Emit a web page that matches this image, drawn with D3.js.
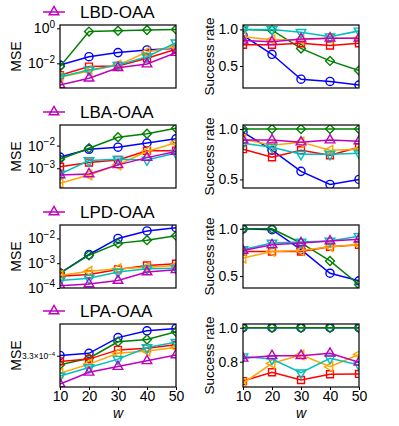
<!DOCTYPE html>
<html>
<head>
<meta charset="utf-8">
<script src="https://cdn.jsdelivr.net/npm/d3@7"></script>
<style>
  body { margin: 0; background: #fff; }
  text { font-family: "Liberation Sans", Arial, sans-serif; fill: #000; }
</style>
</head>
<body>
<svg width="399" height="426"></svg>
<script>
// x values (window size w)
const wValues = [10, 20, 30, 40, 50];
const rowTitles = ['LBD-OAA', 'LBA-OAA', 'LPD-OAA', 'LPA-OAA'];
// series order: blue o, green D, red s, orange <, cyan v, magenta ^

// MSE per row
const mseLBD = [
  [7.9e-3, 0.024, 0.041, 0.058, 0.072],
  [6.5e-3, 0.65, 0.72, 0.79, 0.87],
  [2.1e-3, 6.5e-3, 7.1e-3, 0.0195, 0.065],
  [1.6e-3, 3.6e-3, 7.9e-3, 0.044, 0.089],
  [1.7e-3, 4.2e-3, 7.9e-3, 0.024, 0.15],
  [5.8e-4, 1.4e-3, 5.6e-3, 9.1e-3, 0.041]
];
const mseLBA = [
  [3.1e-3, 6.9e-3, 8.5e-3, 0.0129, 0.02],
  [2.5e-3, 7.6e-3, 0.0234, 0.0331, 0.0589],
  [1.17e-3, 1.78e-3, 2.34e-3, 5.9e-3, 6.0e-3],
  [2.2e-4, 5.1e-4, 1.41e-3, 5.5e-3, 0.0135],
  [5.6e-4, 2.19e-3, 2.5e-3, 2.34e-3, 4.7e-3],
  [5.1e-4, 5.6e-4, 1.41e-3, 2.95e-3, 5.5e-3]
];
const mseLPD = [
  [4.0e-4, 2.24e-3, 0.01, 0.02, 0.027],
  [4.0e-4, 2.1e-3, 6.3e-3, 8.5e-3, 0.0129],
  [2.95e-4, 3.5e-4, 5.6e-4, 8.1e-4, 9.5e-4],
  [3.2e-4, 4.7e-4, 6.0e-4, 6.9e-4, 8.1e-4],
  [2.0e-4, 2.45e-4, 4.4e-4, 6.0e-4, 6.3e-4],
  [1.23e-4, 1.45e-4, 2.0e-4, 4.4e-4, 5.4e-4]
];
const mseLPA = [
  [3.31e-4, 3.39e-4, 4.03e-4, 4.34e-4, 4.46e-4],
  [2.99e-4, 3.21e-4, 3.85e-4, 3.95e-4, 4.30e-4],
  [3.10e-4, 3.18e-4, 3.52e-4, 3.58e-4, 3.72e-4],
  [2.72e-4, 3.01e-4, 3.39e-4, 3.48e-4, 3.61e-4],
  [2.64e-4, 2.90e-4, 3.18e-4, 3.61e-4, 3.83e-4],
  [2.42e-4, 2.75e-4, 2.93e-4, 3.12e-4, 3.33e-4]
];

// success rate per row
const srLBD = [
  [0.92, 0.66, 0.32, 0.29, 0.24],
  [1.0, 0.99, 0.74, 0.57, 0.44],
  [0.79, 0.79, 0.81, 0.78, 0.81],
  [0.9, 0.86, 0.86, 0.88, 0.88],
  [1.0, 1.0, 0.96, 0.9, 0.98],
  [0.85, 0.83, 0.87, 0.88, 0.88]
];
const srLBA = [
  [0.97, 0.79, 0.58, 0.45, 0.5],
  [1.0, 1.0, 1.0, 1.0, 1.0],
  [0.8, 0.72, 0.79, 0.74, 0.82],
  [0.9, 0.84, 0.87, 0.79, 0.8],
  [0.86, 0.82, 0.75, 0.75, 0.76],
  [0.89, 0.89, 0.87, 0.89, 0.88]
];
const srLPD = [
  [1.0, 0.99, 0.78, 0.53, 0.45],
  [1.0, 1.0, 0.85, 0.66, 0.41],
  [0.76, 0.76, 0.76, 0.81, 0.83],
  [0.69, 0.76, 0.77, 0.81, 0.83],
  [0.78, 0.85, 0.86, 0.87, 0.92],
  [0.77, 0.83, 0.85, 0.87, 0.89]
];
const srLPA = [
  [1.0, 1.0, 1.0, 1.0, 1.0],
  [1.0, 1.0, 1.0, 1.0, 1.0],
  [0.686, 0.738, 0.692, 0.726, 0.728],
  [0.673, 0.79, 0.84, 0.77, 0.843],
  [0.83, 0.816, 0.735, 0.82, 0.78],
  [0.82, 0.835, 0.835, 0.849, 0.796]
];

// axis ranges and tick values
const mseDomains = [[3.9e-4, 1.55], [1.35e-4, 0.081], [1e-4, 0.0347], [2.34e-4, 4.68e-4]];
const mseTicks = [[1, 1e-2], [1e-2, 1e-3], [1e-2, 1e-3, 1e-4], [3.3e-4]];
const srDomains = [[0.2, 1.06], [0.415, 1.04], [0.374, 1.04], [0.651, 1.022]];
const srTicks = [[0.5, 1.0], [0.5, 1.0], [0.5, 1.0], [0.8, 1.0]];

const mseRows = [mseLBD, mseLBA, mseLPD, mseLPA];
const srRows = [srLBD, srLBA, srLPD, srLPA];

// styles
const colors = ['#0000ff', '#008000', '#ff0000', '#ffa500', '#00bfbf', '#bf00bf'];
const markers = ['circle', 'diamond', 'square', 'tleft', 'tdown', 'tup'];

const svg = d3.select('svg');
const rowTops = [25, 125, 225, 324];
const panelW = 116, panelH = 63;
const leftX = 60, rightX = 243;

function markerPath(kind) {
    if (kind === 'circle') return { d: d3.symbol(d3.symbolCircle, 52)(), rot: 0 };
    if (kind === 'diamond') return { d: d3.symbol(d3.symbolSquare, 40)(), rot: 45 };
    if (kind === 'square') return { d: d3.symbol(d3.symbolSquare, 48)(), rot: 0 };
    const tri = d3.symbol(d3.symbolTriangle, 40)();
    if (kind === 'tup') return { d: tri, rot: 0 };
    if (kind === 'tdown') return { d: tri, rot: 180 };
    return { d: tri, rot: -90 };
}

function superscriptTicks(sel) {
    sel.selectAll('.tick text').each(function(d) {
        const t = d3.select(this);
        t.text(null);
        const e = Math.round(Math.log10(d));
        t.append('tspan').text('10');
        t.append('tspan').attr('dy', '-0.55em').attr('font-size', '10px')
            .text(e < 0 ? '\u2212' + (-e) : e);
    });
}

function drawPanel(x0, y0, data, y, tickVals, isLog, row, col) {
    const x = d3.scaleLinear().domain([10, 50]).range([x0, x0 + panelW]);
    const id = 'clip' + row + col;
    svg.append('clipPath').attr('id', id)
        .append('rect').attr('x', x0).attr('y', y0).attr('width', panelW).attr('height', panelH);

    const g = svg.append('g').attr('clip-path', `url(#${id})`);
    const line = d3.line().x((d, i) => x(wValues[i])).y(d => y(d));

    data.forEach((series, s) => {
        g.append('path')
            .attr('d', line(series))
            .attr('fill', 'none')
            .attr('stroke', colors[s])
            .attr('stroke-width', 1.5);
        const m = markerPath(markers[s]);
        g.selectAll(null)
            .data(series)
            .enter().append('path')
            .attr('d', m.d)
            .attr('transform', (d, i) => `translate(${x(wValues[i])},${y(d)}) rotate(${m.rot})`)
            .attr('fill', 'none')
            .attr('stroke', colors[s])
            .attr('stroke-width', 1.4);
    });

    // frame
    svg.append('rect')
        .attr('x', x0).attr('y', y0).attr('width', panelW).attr('height', panelH)
        .attr('fill', 'none').attr('stroke', '#000').attr('stroke-width', 1.2);

    // y axis
    const yAxis = svg.append('g')
        .attr('transform', `translate(${x0},0)`)
        .call(d3.axisLeft(y).tickValues(tickVals).tickSize(3).tickPadding(2)
            .tickFormat(isLog ? null : d3.format('.1f')));
    yAxis.select('.domain').remove();
    yAxis.selectAll('text').attr('font-size', '14px').attr('font-family', '"Liberation Sans", Arial, sans-serif');
    if (isLog && row < 3) superscriptTicks(yAxis);
    if (isLog && row === 3) {
        yAxis.selectAll('.tick text').each(function() {
            const t = d3.select(this);
            t.text(null).attr('font-size', '8.5px');
            t.append('tspan').text('3.3\u00d710');
            t.append('tspan').attr('dy', '-0.5em').attr('font-size', '6px').text('\u22124');
        });
    }

    // x axis on bottom row
    if (row === 3) {
        const xAxis = svg.append('g')
            .attr('transform', `translate(0,${y0 + panelH})`)
            .call(d3.axisBottom(x).tickValues(wValues).tickSize(3).tickPadding(1.5));
        xAxis.select('.domain').remove();
        xAxis.selectAll('text').attr('font-size', '14px').attr('font-family', '"Liberation Sans", Arial, sans-serif');
        svg.append('text')
            .attr('x', x0 + panelW / 2).attr('y', y0 + panelH + 31)
            .attr('text-anchor', 'middle')
            .attr('font-size', '14px')
            .attr('font-style', 'italic')
            .text('w');
    }

    // y label
    svg.append('text')
        .attr('transform', `translate(${col === 0 ? 20.5 : 213.5},${y0 + panelH / 2}) rotate(-90)`)
        .attr('text-anchor', 'middle')
        .attr('font-size', col === 0 ? '14px' : '13.5px')
        .text(col === 0 ? 'MSE' : 'Success rate');
}

rowTops.forEach((top, r) => {
    const yLog = d3.scaleLog().domain(mseDomains[r]).range([top + panelH, top]);
    drawPanel(leftX, top, mseRows[r], yLog, mseTicks[r], true, r, 0);

    const yLin = d3.scaleLinear().domain(srDomains[r]).range([top + panelH, top]);
    drawPanel(rightX, top, srRows[r], yLin, srTicks[r], false, r, 1);

    // legend: magenta line with triangle marker
    const ly = top - 13;
    svg.append('line')
        .attr('x1', 43).attr('x2', 65).attr('y1', ly).attr('y2', ly)
        .attr('stroke', colors[5]).attr('stroke-width', 1.5);
    const m = markerPath('tup');
    svg.append('path')
        .attr('d', m.d)
        .attr('transform', `translate(54,${ly})`)
        .attr('fill', 'none').attr('stroke', colors[5]).attr('stroke-width', 1.4);
    svg.append('text')
        .attr('x', 80).attr('y', top - 7.5)
        .attr('font-size', '17px')
        .text(rowTitles[r]);
});
</script>
</body>
</html>
